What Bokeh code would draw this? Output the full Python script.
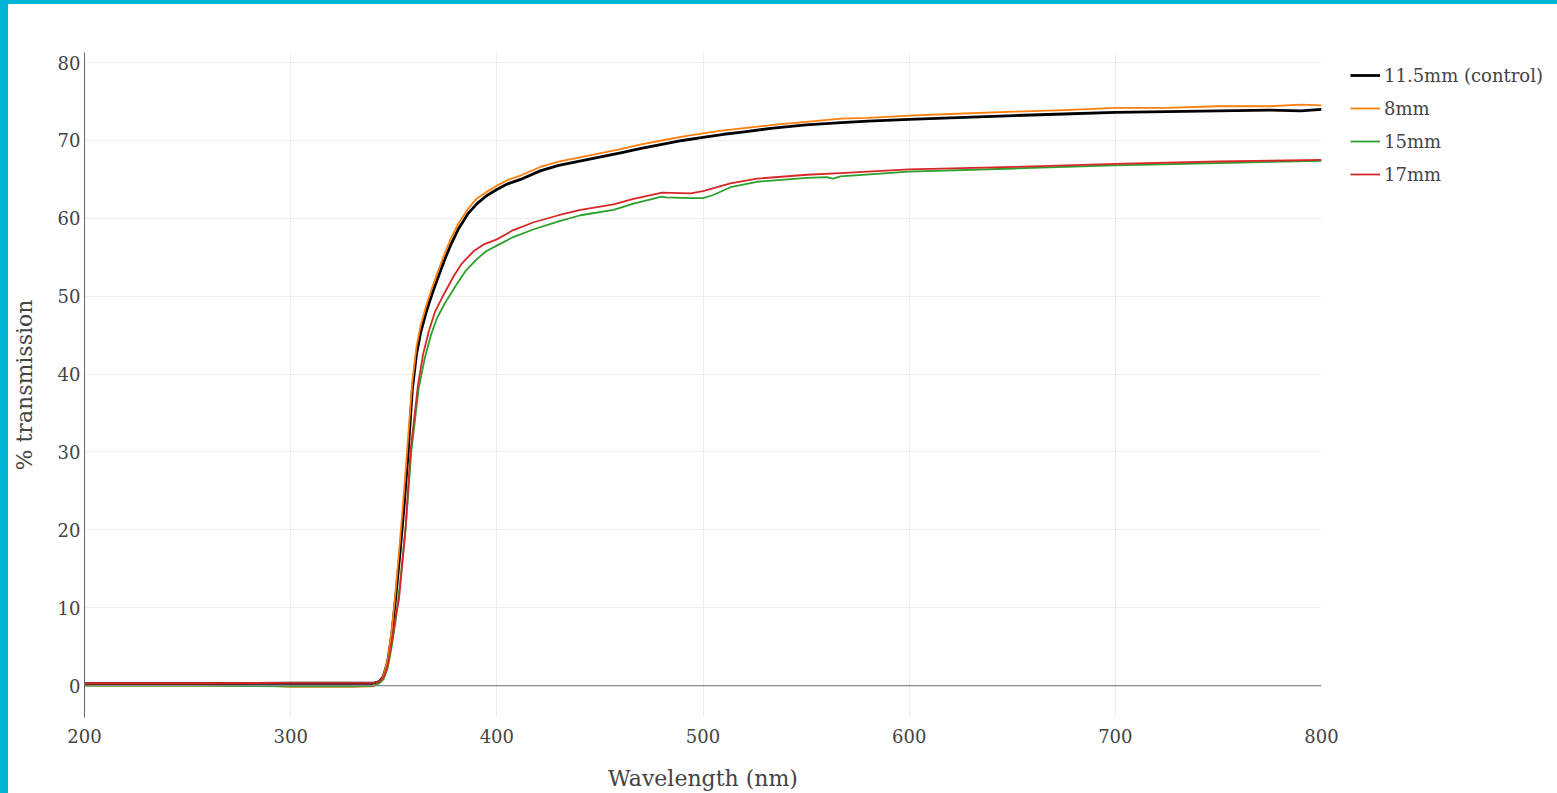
from bokeh.plotting import figure
from bokeh.models import Legend, LegendItem, Span, FixedTicker, Range1d
from bokeh.layouts import column, row
from bokeh.embed import file_html
from bokeh.resources import INLINE

# Transmission spectra (% transmission vs wavelength in nm)
wl_control = [200, 250, 300, 330, 340, 343, 345, 347, 349, 351, 353, 355, 357, 359, 361, 363, 366,
              369, 372, 375, 378, 381.5, 386, 390.4, 395, 400, 405, 411.5, 421, 430, 445, 460, 470,
              480, 490, 500, 510, 520, 534, 550, 567, 580, 600, 620, 651, 675, 700, 725, 750, 775,
              790, 800]
t_control = [0.25, 0.25, 0.3, 0.3, 0.3, 0.5, 1.2, 3.0, 6.5, 11.5, 17, 23, 30, 38, 42.5, 45.3, 48.2,
             50.6, 52.8, 54.9, 56.8, 58.7, 60.6, 61.9, 62.9, 63.7, 64.4, 65.0, 66.1, 66.8, 67.6,
             68.4, 69.0, 69.5, 70.0, 70.4, 70.8, 71.1, 71.6, 72.0, 72.3, 72.5, 72.7, 72.9, 73.2,
             73.4, 73.6, 73.7, 73.8, 73.9, 73.8, 74.0]

wl_8mm = [200, 250, 290, 300, 330, 340, 343, 345, 347, 349, 351, 353, 355, 357, 359, 361, 363, 366,
          369, 372, 375, 378, 381.5, 386, 390, 395, 400, 405, 411.5, 421, 430, 445, 460, 470, 480,
          490, 500, 510, 520, 534, 550, 567, 580, 600, 620, 651, 675, 700, 725, 750, 775, 790, 800]
t_8mm = [0.0, 0.0, -0.05, -0.15, -0.15, -0.1, 0.3, 1.2, 3.2, 7.0, 12.5, 18.5, 25, 32, 39, 43.5,
         46.2, 49.0, 51.4, 53.6, 55.7, 57.6, 59.4, 61.2, 62.5, 63.4, 64.2, 64.9, 65.5, 66.6, 67.3,
         68.1, 68.9, 69.5, 70.0, 70.5, 70.9, 71.3, 71.6, 72.0, 72.4, 72.8, 72.9, 73.2, 73.4, 73.7,
         73.9, 74.2, 74.2, 74.4, 74.4, 74.6, 74.5]

wl_15mm = [200, 250, 300, 330, 340, 343, 345, 347, 349, 351, 353, 356, 358.5, 362, 365, 368, 371,
           375, 380.7, 385, 390.4, 395, 400, 408, 417.9, 430, 440.6, 456.6, 466.3, 480, 482, 494,
           500, 505, 513.3, 526.2, 550.5, 560, 563, 566.7, 600, 651, 700, 750, 800]
t_15mm = [0.0, 0.0, -0.1, -0.1, -0.05, 0.3, 0.8, 2.2, 5.0, 8.5, 13, 21, 30, 38, 42, 45, 47.2,
          49.2, 51.6, 53.3, 54.8, 55.8, 56.5, 57.6, 58.6, 59.6, 60.4, 61.1, 61.9, 62.8, 62.7, 62.6,
          62.6, 63.0, 64.0, 64.7, 65.2, 65.3, 65.1, 65.4, 66.0, 66.4, 66.8, 67.1, 67.4]

wl_17mm = [200, 250, 300, 330, 340, 343, 345, 347, 349, 351, 352.5, 355.7, 358.1, 361.7, 364.2, 367,
           370, 373.4, 379.1, 383, 388.8, 394, 400, 408, 417.9, 430, 440.6, 456.6, 466.3, 480.2, 494,
           500, 513.3, 526.2, 550.5, 566.7, 600, 651, 700, 750, 800]
t_17mm = [0.3, 0.3, 0.35, 0.35, 0.35, 0.5, 1.0, 2.5, 5.5, 9.0, 11, 20, 30, 38.5, 42.5, 45.5, 48,
          49.8, 52.6, 54.2, 55.8, 56.7, 57.3, 58.5, 59.5, 60.4, 61.1, 61.8, 62.5, 63.3, 63.2, 63.5,
          64.5, 65.1, 65.6, 65.8, 66.3, 66.6, 67.0, 67.3, 67.5]

series_names = ["11.5mm (control)", "8mm", "15mm", "17mm"]
series_colors = ["#000000", "#ff7f0e", "#2ca02c", "#d62728"]
series_widths = [2.8, 1.8, 1.8, 1.8]

x_ticks = [200, 300, 400, 500, 600, 700, 800]
y_ticks = [0, 10, 20, 30, 40, 50, 60, 70, 80]

FONT = "DejaVu Serif"
TEXT = "#444444"

# main plot area
p = figure(width=1333, height=789, output_backend="svg", toolbar_location=None,
           x_range=Range1d(200, 800), y_range=Range1d(-4.1, 81.3),
           min_border_left=76, min_border_right=20, min_border_top=48, min_border_bottom=76,
           styles={"background-color": "white"})
p.outline_line_color = None
p.background_fill_color = "white"
p.border_fill_color = "white"

p.xgrid.ticker = FixedTicker(ticks=x_ticks)
p.ygrid.ticker = FixedTicker(ticks=[t for t in y_ticks if t != 0])
p.xgrid.grid_line_color = "#eeeeee"
p.ygrid.grid_line_color = "#eeeeee"

p.xaxis.ticker = FixedTicker(ticks=x_ticks)
p.yaxis.ticker = FixedTicker(ticks=y_ticks)
for ax in (p.xaxis[0], p.yaxis[0]):
    ax.major_tick_line_color = None
    ax.minor_tick_line_color = None
    ax.major_tick_out = 0
    ax.major_tick_in = 0
    ax.minor_tick_out = 0
    ax.minor_tick_in = 0
    ax.major_label_text_font = FONT
    ax.major_label_text_font_size = "18px"
    ax.major_label_text_color = TEXT
    ax.axis_label_text_font = FONT
    ax.axis_label_text_font_size = "22px"
    ax.axis_label_text_font_style = "normal"
    ax.axis_label_text_color = TEXT
p.xaxis.axis_line_color = None
p.xaxis.major_label_standoff = 11
p.xaxis.axis_label = "Wavelength (nm)"
p.xaxis.axis_label_standoff = 20
p.yaxis.axis_line_color = "#666666"
p.yaxis.axis_line_width = 1
p.yaxis.major_label_standoff = 4
p.yaxis.axis_label = "% transmission"
p.yaxis.axis_label_standoff = 18

# zero line
p.add_layout(Span(location=0, dimension="width", line_color="#888888", line_width=1.3))

data = [(wl_control, t_control), (wl_8mm, t_8mm), (wl_15mm, t_15mm), (wl_17mm, t_17mm)]
for (xs, ys), color, w in zip(data, series_colors, series_widths):
    p.line(xs, ys, line_color=color, line_width=w, line_join="round")

# legend panel to the right of the plot area (its frame is aligned with the main frame)
lp = figure(width=216, height=789, output_backend="svg", toolbar_location=None,
            x_range=Range1d(0, 1), y_range=Range1d(0, 1),
            min_border=0, styles={"background-color": "white"})
lp.axis.visible = False
lp.grid.visible = False
lp.outline_line_color = None
lp.background_fill_color = "white"
lp.border_fill_color = "white"

items = []
for name, color, w in zip(series_names, series_colors, series_widths):
    # single off-range point: supplies the legend swatch style only
    r = lp.line(x=[5], y=[5], line_color=color, line_width=w)
    items.append(LegendItem(label=name, renderers=[r]))

legend = Legend(items=items, location=(9, 532), orientation="vertical",
                padding=0, margin=0, spacing=11, glyph_width=30, glyph_height=22,
                label_height=22, label_standoff=4,
                label_text_font=FONT, label_text_font_size="18px", label_text_color=TEXT,
                background_fill_alpha=0, border_line_color=None)
lp.add_layout(legend, "center")

page = column(row(p, lp), styles={"background-color": "#00b4d6", "padding": "4px 0px 0px 8px"})

open("out.html", "w").write(file_html(page, INLINE))
